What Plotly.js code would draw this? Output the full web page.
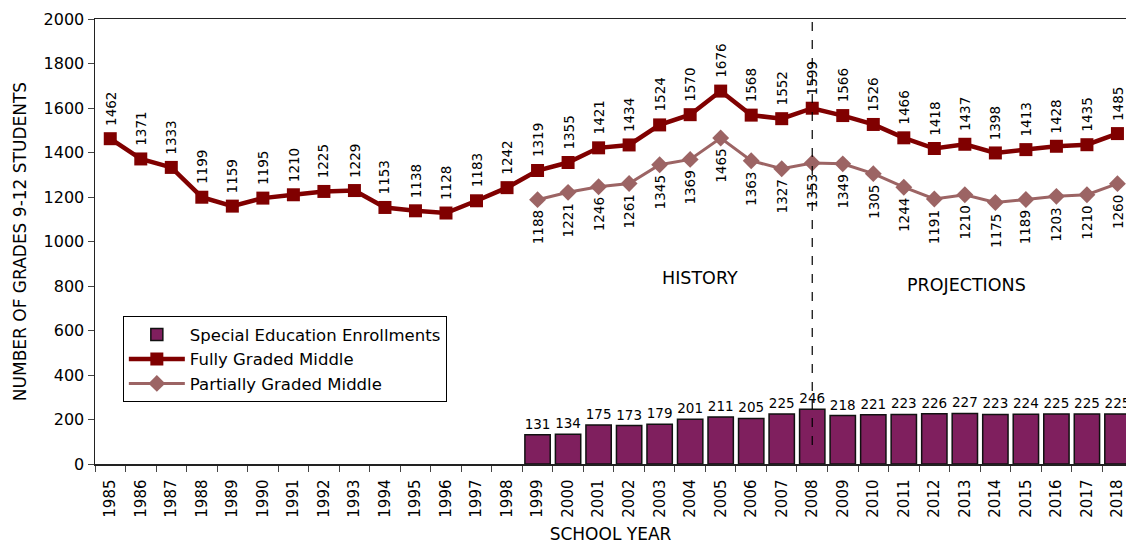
<!DOCTYPE html>
<html>
<head>
<meta charset="utf-8">
<script src="https://cdn.plot.ly/plotly-3.0.1.min.js"></script>
<style>
  html, body { margin: 0; padding: 0; background: #fff; overflow: hidden; }
  #chart { width: 1126px; height: 544px; }
</style>
</head>
<body>
<div id="chart"></div>
<script>
// School years shown on the category axis
const years = ['1985','1986','1987','1988','1989','1990','1991','1992','1993','1994',
  '1995','1996','1997','1998','1999','2000','2001','2002','2003','2004','2005','2006',
  '2007','2008','2009','2010','2011','2012','2013','2014','2015','2016','2017','2018'];

// Fully graded middle school enrollment, grades 9-12 (1985-2018)
const fullyGraded = [1462,1371,1333,1199,1159,1195,1210,1225,1229,1153,1138,1128,1183,
  1242,1319,1355,1421,1434,1524,1570,1676,1568,1552,1599,1566,1526,1466,1418,1437,1398,
  1413,1428,1435,1485];

// Partially graded middle and special education series start in 1999
const laterYears = years.slice(14);
const partiallyGraded = [1188,1221,1246,1261,1345,1369,1465,1363,1327,1353,1349,1305,
  1244,1191,1210,1175,1189,1203,1210,1260];
const specialEd = [131,134,175,173,179,201,211,205,225,246,218,221,223,226,227,223,224,
  225,225,225];

// Boundary between history and projections
const dividerYear = '2008';
const dividerFrom = 85;

const FONT = 'DejaVu Sans, Arial, sans-serif';
const FULL_COLOR = '#800000';
const PART_COLOR = '#9c6464';
const BAR_COLOR = '#7f1f5e';

// Category index of a school year (annotations and shapes use indices)
const idx = yr => years.indexOf(yr);

const traces = [
  {
    type: 'bar', name: 'Special Education Enrollments',
    x: laterYears, y: specialEd,
    marker: { color: BAR_COLOR, line: { color: '#111', width: 1.5 } },
    text: specialEd.map(String), textposition: 'outside', constraintext: 'none',
    textfont: { family: FONT, size: 13.5, color: '#000' }, cliponaxis: true,
    hoverinfo: 'x+y'
  },
  {
    type: 'scatter', mode: 'lines+markers', name: 'Fully Graded Middle',
    x: years, y: fullyGraded,
    line: { color: FULL_COLOR, width: 4.5 },
    marker: { symbol: 'square', size: 13, color: FULL_COLOR }
  },
  {
    type: 'scatter', mode: 'lines+markers', name: 'Partially Graded Middle',
    x: laterYears, y: partiallyGraded,
    line: { color: PART_COLOR, width: 3 },
    marker: { symbol: 'diamond', size: 13, color: PART_COLOR }
  }
];

// Rotated value labels: above the fully graded line, below the partially graded line
const annotations = [];
years.forEach((yr, i) => {
  annotations.push({
    x: idx(yr), y: fullyGraded[i], xref: 'x', yref: 'y', text: String(fullyGraded[i]),
    textangle: -90, showarrow: false, xanchor: 'center', yanchor: 'bottom', yshift: 11,
    font: { family: FONT, size: 13.5, color: '#000' }
  });
});
laterYears.forEach((yr, i) => {
  annotations.push({
    x: idx(yr), y: partiallyGraded[i], xref: 'x', yref: 'y', text: String(partiallyGraded[i]),
    textangle: -90, showarrow: false, xanchor: 'center', yanchor: 'top', yshift: -9,
    font: { family: FONT, size: 13.5, color: '#000' }
  });
});
annotations.push(
  { xref: 'paper', yref: 'paper', x: 0.587, y: 0.418, xanchor: 'center', yanchor: 'middle',
    text: 'HISTORY', showarrow: false, font: { family: FONT, size: 17.5, color: '#000' } },
  { xref: 'paper', yref: 'paper', x: 0.845, y: 0.402, xanchor: 'center', yanchor: 'middle',
    text: 'PROJECTIONS', showarrow: false, font: { family: FONT, size: 17.5, color: '#000' } }
);

const layout = {
  width: 1126, height: 544,
  margin: { l: 95, r: 0, t: 19, b: 80 },
  paper_bgcolor: '#fff', plot_bgcolor: '#fff',
  font: { family: FONT, color: '#000' },
  bargap: 0.17,
  showlegend: true,
  legend: {
    x: 0.027, y: 0.332, xanchor: 'left', yanchor: 'top',
    bgcolor: '#fff', bordercolor: '#000', borderwidth: 1,
    font: { family: FONT, size: 16.5, color: '#000' },
    itemwidth: 56, tracegroupgap: 0, traceorder: 'normal'
  },
  xaxis: {
    type: 'category', categoryorder: 'array', categoryarray: years,
    range: [-0.5, 33.28],
    showline: true, linecolor: '#222', linewidth: 1.5, mirror: true,
    ticks: 'outside', tickson: 'boundaries', ticklen: 6, tickcolor: '#444',
    tickangle: -90, ticklabelstandoff: 8,
    tickfont: { family: FONT, size: 15, color: '#000' },
    showgrid: false, zeroline: false, automargin: false,
    title: { text: 'SCHOOL YEAR', standoff: 16, font: { family: FONT, size: 17, color: '#000' } }
  },
  yaxis: {
    range: [0, 2000], dtick: 200, tick0: 0,
    showline: true, linecolor: '#222', linewidth: 1.5,
    ticks: 'outside', ticklen: 6, tickcolor: '#444',
    tickfont: { family: FONT, size: 16, color: '#000' },
    showgrid: false, zeroline: false, automargin: false,
    title: { text: 'NUMBER OF GRADES 9-12 STUDENTS', standoff: 12, font: { family: FONT, size: 17, color: '#000' } }
  },
  shapes: [{
    type: 'line', xref: 'x', yref: 'y', layer: 'above',
    x0: idx(dividerYear), x1: idx(dividerYear), y0: dividerFrom, y1: 2000,
    line: { color: '#000', width: 1.2, dash: 'dash' }
  }],
  annotations: annotations
};

Plotly.newPlot('chart', traces, layout, { displayModeBar: false, staticPlot: true });
</script>
</body>
</html>
